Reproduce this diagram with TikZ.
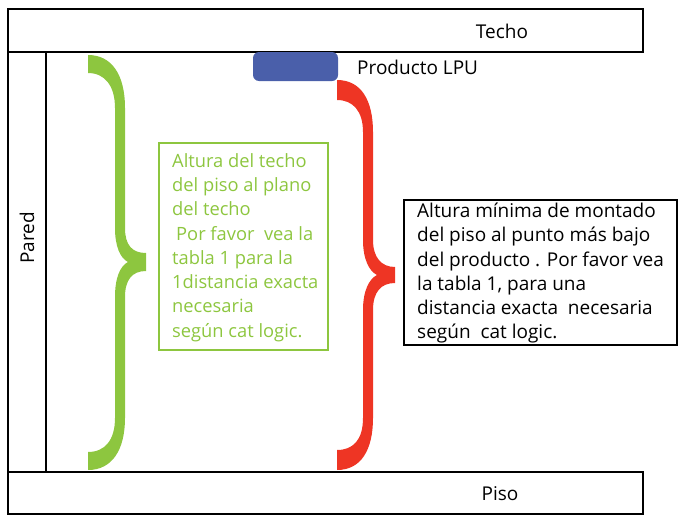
\documentclass[tikz,border=0pt]{standalone}
\usepackage{fontspec}
\setmainfont{Open Sans}
\definecolor{lgreen}{HTML}{8DC63F}
\definecolor{bred}{HTML}{EE3524}
\definecolor{pblue}{HTML}{4A5FAA}
\begin{document}
\begin{tikzpicture}[x=1pt,y=-1pt,
  frame/.style={draw=black,line width=2.5pt},
  lbl/.style={font=\fontsize{19}{22}\selectfont,inner sep=0pt},
  boxtext/.style={align=left,inner sep=0pt,anchor=north west}]
\useasboundingbox (0,0) rectangle (678,517);
% Techo
\draw[frame] (8,9) rectangle (643,52);
\node[lbl] (techo) at (502,31) {Techo};
% Piso
\draw[frame] (8,472) rectangle (643,514);
\node[lbl] (piso) at (500,494) {Piso};
% left wall
\draw[frame] (8,52) -- (8,472);
\draw[draw=black,line width=2pt] (46,52) -- (46,472);
\node[lbl,rotate=90] (pared) at (27,238) {Pared};
% product
\node[fill=pblue,rounded corners=6pt,minimum width=85pt,minimum height=29pt,inner sep=0pt] (lpu) at (295.5,66.5) {};
\node[lbl,anchor=west] (lputxt) at (357,67) {Producto LPU};
% green brace
\fill[lgreen] (88,55) .. controls (112,55) and (125,75) .. (125,108) -- (125,228)
  .. controls (125,245) and (132,253) .. (146,253) -- (146,271)
  .. controls (132,271) and (125,280) .. (125,297) -- (125,418)
  .. controls (125,450) and (112,470) .. (88,470) -- (88,452)
  .. controls (105,452) and (115,440) .. (115,418) -- (115,297)
  .. controls (115,278) and (120,266) .. (128,262)
  .. controls (120,258) and (115,246) .. (115,228) -- (115,108)
  .. controls (115,86) and (105,73) .. (88,73) -- cycle;
% red brace
\fill[bred] (337,80) .. controls (361,80) and (373,100) .. (373,132) -- (373,240)
  .. controls (373,257) and (381,267) .. (395,267) -- (395,283)
  .. controls (381,283) and (373,292) .. (373,310) -- (373,418)
  .. controls (373,450) and (361,470) .. (337,470) -- (337,450)
  .. controls (353,450) and (363,440) .. (363,418) -- (363,310)
  .. controls (363,291) and (369,279) .. (377,275)
  .. controls (369,271) and (363,259) .. (363,240) -- (363,132)
  .. controls (363,111) and (353,100) .. (337,100) -- cycle;
% green box
\draw[draw=lgreen,line width=2.5pt] (159,143) rectangle (328,350);
\node[boxtext,text=lgreen,font=\fontsize{18.3}{24.3}\selectfont] (gtxt) at (172,153) {Altura del techo\\del piso al plano\\del techo\\\hspace*{4pt}Por favor\ \ vea la\\tabla 1 para la\\1distancia exacta\\necesaria\\según cat logic.};
% black box
\draw[draw=black,line width=2.5pt] (404,200) rectangle (677,345);
\node[boxtext,text=black,font=\fontsize{19}{24.2}\selectfont] (btxt) at (417,203) {Altura mínima de montado\\del piso al punto más bajo\\del producto . Por favor vea\\la tabla 1, para una\\distancia exacta\ \ necesaria\\según\ \ cat logic.};
\end{tikzpicture}
\end{document}
